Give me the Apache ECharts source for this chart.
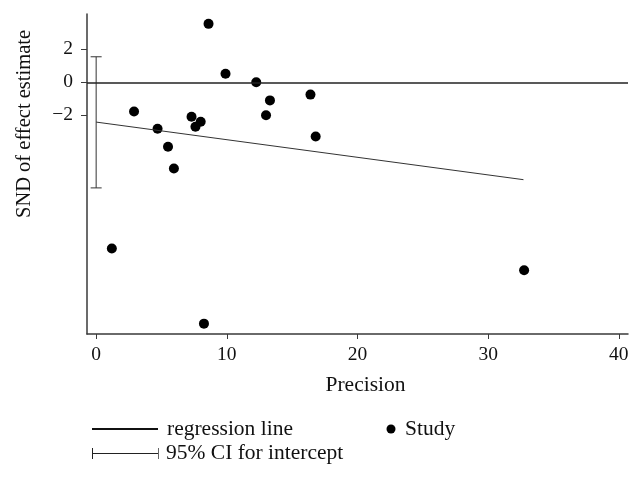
<!DOCTYPE html>
<html>
<head>
<meta charset="utf-8">
<script src="https://cdn.jsdelivr.net/npm/echarts@6/dist/echarts.min.js"></script>
<style>html,body{margin:0;padding:0;background:#fff}#c{width:642px;height:481px}</style>
</head>
<body>
<div id="c"></div>
<script>
// Study points: precision (x) and SND of effect estimate (y)
const precision = [2.9, 4.7, 5.5, 5.95, 7.3, 7.6, 8.0, 8.6, 9.9, 12.25, 13.3, 13.0, 16.4, 16.8, 1.2, 8.25, 32.75];
const snd       = [-1.78, -2.83, -3.92, -5.24, -2.1, -2.7, -2.4, 3.55, 0.52, 0.0, -1.1, -2.0, -0.75, -3.3, -10.1, -14.67, -11.42];
// Regression line endpoints
const regX = [0, 32.7];
const regY = [-2.42, -5.92];
// 95% CI for intercept
const ciX = 0;
const ciLow = -6.42;
const ciHigh = 1.55;
// Tick labels
const xTicks = [0, 10, 20, 30, 40];
const yTicks = [-2, 0, 2];

const FONT = 'Liberation Serif';
const chart = echarts.init(document.getElementById('c'));
const axisLine = {show: true, onZero: false, lineStyle: {color: '#3a3a3a', width: 1.5}};
chart.setOption({
  backgroundColor: '#fff',
  animation: false,
  grid: {left: 87, right: 14, top: 14, bottom: 147, containLabel: false},
  xAxis: {
    type: 'value', min: -0.7, max: 40.7,
    name: 'Precision', nameLocation: 'middle', nameGap: 40,
    nameTextStyle: {fontFamily: FONT, fontSize: 21.5, color: '#111', padding: [0, 0, 0, 16]},
    axisLine: axisLine,
    axisTick: {show: true, length: 5, customValues: xTicks, lineStyle: {color: '#3a3a3a', width: 1}},
    axisLabel: {customValues: xTicks, fontFamily: FONT, fontSize: 19.5, color: '#111', margin: 11},
    splitLine: {show: false}
  },
  yAxis: {
    type: 'value', min: -15.3, max: 4.15,
    axisLine: axisLine,
    axisTick: {show: true, length: 6, customValues: yTicks, lineStyle: {color: '#3a3a3a', width: 1}},
    axisLabel: {customValues: yTicks, fontFamily: FONT, fontSize: 19.5, color: '#111', margin: 14,
      formatter: v => String(v).replace('-', '\u2212')},
    splitLine: {show: false}
  },
  graphic: [
    {type: 'text', x: 25, y: 124, rotation: Math.PI / 2,
      style: {text: 'SND of effect estimate', fontFamily: FONT, fontSize: 20.5, fill: '#111', align: 'center', verticalAlign: 'middle'}},
    {type: 'line', shape: {x1: 92, y1: 429, x2: 158, y2: 429}, style: {stroke: '#111', lineWidth: 2}},
    {type: 'text', x: 167, y: 429, style: {text: 'regression line', fontFamily: FONT, fontSize: 21.5, fill: '#111', verticalAlign: 'middle'}},
    {type: 'circle', shape: {cx: 391, cy: 429, r: 4.5}, style: {fill: '#000'}},
    {type: 'text', x: 405, y: 429, style: {text: 'Study', fontFamily: FONT, fontSize: 21.5, fill: '#111', verticalAlign: 'middle'}},
    {type: 'line', shape: {x1: 92, y1: 453.5, x2: 159, y2: 453.5}, style: {stroke: '#222', lineWidth: 1}},
    {type: 'line', shape: {x1: 92.5, y1: 448, x2: 92.5, y2: 459}, style: {stroke: '#222', lineWidth: 1}},
    {type: 'line', shape: {x1: 158.5, y1: 448, x2: 158.5, y2: 459}, style: {stroke: '#666', lineWidth: 1}},
    {type: 'text', x: 166, y: 453, style: {text: '95% CI for intercept', fontFamily: FONT, fontSize: 21.5, fill: '#111', verticalAlign: 'middle'}}
  ],
  series: [
    {
      type: 'line', name: 'zero',
      data: [], silent: true,
      markLine: {symbol: 'none', silent: true, label: {show: false},
        lineStyle: {color: '#222', width: 1.5, type: 'solid'},
        data: [{yAxis: 0}]}
    },
    {
      type: 'line', name: 'regression line', symbol: 'none',
      data: regX.map((x, i) => [x, regY[i]]),
      lineStyle: {color: '#333', width: 1}
    },
    {
      type: 'custom', name: 'CI',
      data: [[ciX, ciLow, ciHigh]],
      renderItem: function (params, api) {
        const lo = api.coord([api.value(0), api.value(1)]);
        const hi = api.coord([api.value(0), api.value(2)]);
        const w = 5.5;
        const st = {stroke: '#333', lineWidth: 1};
        return {type: 'group', children: [
          {type: 'line', shape: {x1: hi[0], y1: hi[1], x2: lo[0], y2: lo[1]}, style: st},
          {type: 'line', shape: {x1: hi[0] - w, y1: hi[1], x2: hi[0] + w, y2: hi[1]}, style: st},
          {type: 'line', shape: {x1: lo[0] - w, y1: lo[1], x2: lo[0] + w, y2: lo[1]}, style: st}
        ]};
      }
    },
    {
      type: 'scatter', name: 'Study', symbol: 'circle', symbolSize: 10,
      data: precision.map((x, i) => [x, snd[i]]),
      itemStyle: {color: '#000', opacity: 1}
    }
  ]
});
</script>
</body>
</html>
